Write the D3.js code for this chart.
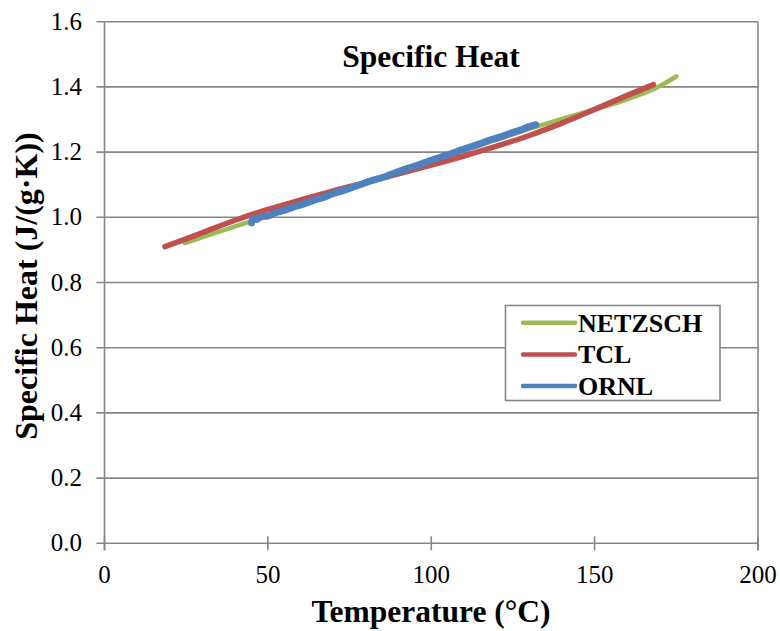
<!DOCTYPE html>
<html>
<head>
<meta charset="utf-8">
<script src="https://cdn.jsdelivr.net/npm/d3@7"></script>
<style>
  body { margin: 0; background: #fff; }
</style>
</head>
<body>
<script>
// data
var xTicks = [0, 50, 100, 150, 200];
var yTicks = [0, 0.2, 0.4, 0.6, 0.8, 1.0, 1.2, 1.4, 1.6];

var netzschT = [24.6, 30, 40, 50, 60, 70, 80, 90, 100, 110, 120, 130, 140, 150, 160, 170, 175];
var netzschCp = [0.921, 0.939, 0.972, 1.005, 1.038, 1.072, 1.105, 1.139, 1.172, 1.205, 1.238, 1.271, 1.302, 1.331, 1.362, 1.403, 1.432];

var tclT = [18.5, 25, 30, 40, 50, 60, 70, 80, 90, 100, 110, 120, 130, 140, 150, 160, 168];
var tclCp = [0.910, 0.934, 0.953, 0.991, 1.024, 1.053, 1.081, 1.107, 1.133, 1.160, 1.188, 1.218, 1.251, 1.289, 1.331, 1.374, 1.407];

var ornlT = [45, 45.5, 46.5, 48, 50, 52, 55, 58, 61, 64, 67, 70, 73, 76, 79, 82, 85, 88, 91, 94, 97, 100, 103, 106, 109, 112, 115, 118, 121, 124, 127, 130, 132];
var ornlCp = [0.983, 0.997, 0.993, 1.002, 1.004, 1.013, 1.021, 1.032, 1.041, 1.052, 1.061, 1.073, 1.082, 1.092, 1.103, 1.113, 1.122, 1.133, 1.144, 1.154, 1.164, 1.175, 1.185, 1.195, 1.206, 1.216, 1.226, 1.237, 1.246, 1.257, 1.267, 1.278, 1.284];

var seriesNames = ["NETZSCH", "TCL", "ORNL"];
var seriesColors = ["#9bbb59", "#c0504d", "#4f81bd"];
var seriesWidths = [4.5, 5.5, 7];

var font = "'Liberation Serif', 'Times New Roman', 'DejaVu Serif', serif";

var svg = d3.select("body").append("svg")
    .attr("width", 780).attr("height", 631)
    .attr("font-family", font)
    .style("font-family", font);

var x = d3.scaleLinear().domain([0, 200]).range([104.5, 758]);
var y = d3.scaleLinear().domain([0, 1.6]).range([543.3, 21.7]);

var gridColor = "#868686";

// horizontal gridlines
svg.append("g").selectAll("line").data(yTicks).enter().append("line")
    .attr("x1", x(0) - 8).attr("x2", x(200))
    .attr("y1", d => y(d)).attr("y2", d => y(d))
    .attr("stroke", gridColor).attr("stroke-width", 1.6);

// left and right borders
svg.append("line").attr("x1", x(0)).attr("x2", x(0)).attr("y1", y(1.6)).attr("y2", y(0) + 7)
    .attr("stroke", gridColor).attr("stroke-width", 1.6);
svg.append("line").attr("x1", x(200)).attr("x2", x(200)).attr("y1", y(1.6)).attr("y2", y(0) + 7)
    .attr("stroke", gridColor).attr("stroke-width", 1.6);

// x ticks cross the axis
svg.append("g").selectAll("line").data(xTicks).enter().append("line")
    .attr("x1", d => x(d)).attr("x2", d => x(d))
    .attr("y1", y(0) - 7).attr("y2", y(0) + 7)
    .attr("stroke", gridColor).attr("stroke-width", 1.6);

// tick labels
svg.append("g").selectAll("text").data(yTicks).enter().append("text")
    .attr("x", 82).attr("y", d => y(d) + 8)
    .attr("text-anchor", "end").style("font-size", "25px")
    .style("font-family", font)
    .text(d => d3.format(".1f")(d));

svg.append("g").selectAll("text").data(xTicks).enter().append("text")
    .attr("x", d => x(d)).attr("y", 583)
    .attr("text-anchor", "middle").style("font-size", "25px")
    .style("font-family", font)
    .text(d => d);

// series
var allSeries = [
    netzschT.map((t, i) => [t, netzschCp[i]]),
    tclT.map((t, i) => [t, tclCp[i]]),
    ornlT.map((t, i) => [t, ornlCp[i]])
];

var line = d3.line()
    .x(d => x(d[0]))
    .y(d => y(d[1]))
    .curve(d3.curveMonotoneX);

svg.append("g").selectAll("path").data(allSeries).enter().append("path")
    .attr("d", line)
    .attr("fill", "none")
    .attr("stroke", (d, i) => seriesColors[i])
    .attr("stroke-width", (d, i) => seriesWidths[i])
    .attr("stroke-linecap", "round")
    .attr("stroke-linejoin", "round");

// titles
svg.append("text").attr("x", 431).attr("y", 67)
    .attr("text-anchor", "middle").style("font-size", "31.5px").style("font-weight", "bold")
    .style("font-family", font)
    .text("Specific Heat");

svg.append("text").attr("x", 431).attr("y", 622)
    .attr("text-anchor", "middle").style("font-size", "31.5px").style("font-weight", "bold")
    .style("font-family", font)
    .text("Temperature (°C)");

svg.append("text").attr("transform", "translate(37,286) rotate(-90)")
    .attr("text-anchor", "middle").style("font-size", "32px").style("font-weight", "bold")
    .style("font-family", font)
    .text("Specific Heat (J/(g·K))");

// legend
var legend = svg.append("g");
legend.append("rect").attr("x", 505.5).attr("y", 305.5).attr("width", 214.5).attr("height", 95)
    .attr("fill", "#fff").attr("stroke", gridColor).attr("stroke-width", 1.6);

var rows = legend.selectAll("g").data(seriesNames).enter().append("g")
    .attr("transform", (d, i) => "translate(0," + (322.7 + i * 31.7) + ")");
rows.append("line").attr("x1", 523).attr("x2", 575).attr("y1", 0).attr("y2", 0)
    .attr("stroke", (d, i) => seriesColors[i]).attr("stroke-width", 4.5)
    .attr("stroke-linecap", "round");
rows.append("text").attr("x", 578).attr("y", 9)
    .style("font-size", "26px").style("font-weight", "bold")
    .style("font-family", font)
    .text(d => d);
</script>
</body>
</html>
